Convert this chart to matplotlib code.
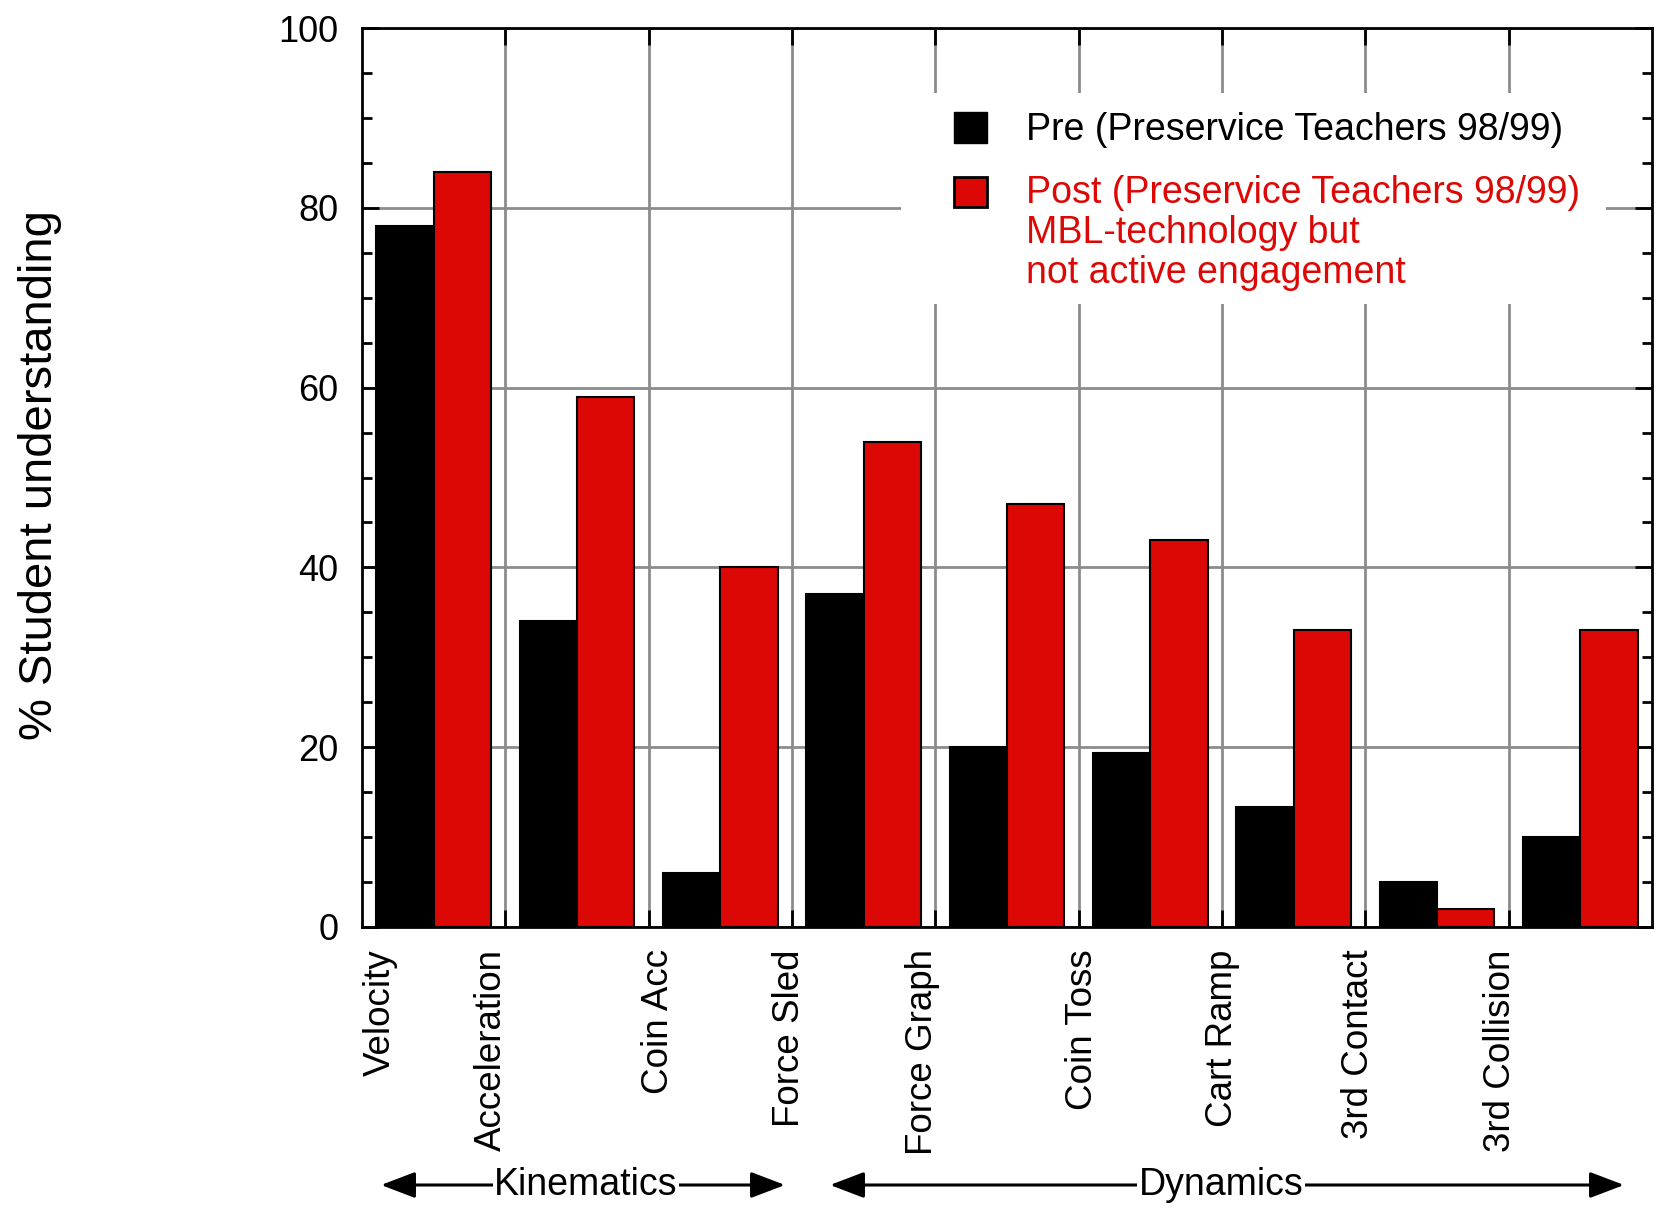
import numpy as np
import matplotlib.pyplot as plt
from matplotlib.patches import Rectangle, FancyArrowPatch

plt.rcParams['font.family'] = ['Liberation Sans', 'DejaVu Sans']

categories = ['Velocity', 'Acceleration', 'Coin Acc', 'Force Sled', 'Force Graph',
              'Coin Toss', 'Cart Ramp', '3rd Contact', '3rd Collision']
pre = [78, 34, 6, 37, 20, 19.4, 13.3, 5, 10]
post = [84, 59, 40, 54, 47, 43, 33, 2, 33]
pre_label = 'Pre (Preservice Teachers 98/99)'
post_lines = ['Post (Preservice Teachers 98/99)', 'MBL-technology but', 'not active engagement']

# where the (misplaced) category labels sit in the original
label_pos = [0.13, 0.90, 2.07, 2.98, 3.91, 5.03, 6.0, 6.95, 7.94]

RED = '#dc0806'
GRID = '#8c8c8c'

fig = plt.figure(figsize=(16.62, 12.16), dpi=100)
ax = fig.add_axes([362 / 1662, 1 - 927 / 1216, 1290 / 1662, 899 / 1216])

x = np.arange(len(categories))
ax.bar(x + 0.3, pre, width=0.4, color='black', edgecolor='black', linewidth=1.5, zorder=2)
ax.bar(x + 0.7, post, width=0.4, color=RED, edgecolor='black', linewidth=1.5, zorder=2)

ax.set_xlim(0, len(categories))
ax.set_ylim(0, 100)

# group boundaries: gridlines + inward ticks
ax.xaxis.remove_overlapping_locs = False
ax.set_xticks(np.arange(1, len(categories)))
ax.set_xticklabels([])
ax.set_xticks(label_pos, minor=True)
ax.set_xticklabels(categories, minor=True, rotation=90, fontsize=26.5)
ax.tick_params(axis='x', which='major', direction='in', length=12, width=2, top=True, bottom=True)
ax.tick_params(axis='x', which='minor', length=0, pad=16)

ax.set_yticks(np.arange(0, 101, 20))
ax.set_yticks(np.arange(0, 101, 5), minor=True)
ax.tick_params(axis='y', which='major', direction='in', length=12, width=2, left=True, right=True,
               labelsize=26, pad=17)
ax.tick_params(axis='y', which='minor', direction='in', length=7, width=2, left=True, right=True)

ax.grid(True, which='major', color=GRID, linewidth=2)
ax.set_axisbelow(True)
for s in ax.spines.values():
    s.set_linewidth(2)

# legend drawn by hand so the red square lines up with the first line
ax.add_patch(Rectangle((0.4178, 0.693), 0.5465, 0.2347, transform=ax.transAxes,
                       facecolor='white', edgecolor='none', zorder=1.5))
ax.add_patch(Rectangle((0.4589, 0.8721), 0.0256, 0.0345, transform=ax.transAxes,
                       facecolor='black', edgecolor='black', zorder=3))
ax.add_patch(Rectangle((0.4589, 0.8009), 0.0256, 0.0334, transform=ax.transAxes,
                       facecolor=RED, edgecolor='black', linewidth=2, zorder=3))
ax.text(0.5147, 0.8754, pre_label, transform=ax.transAxes, fontsize=27, va='baseline', zorder=3)
for i, line in enumerate(post_lines):
    ax.text(0.5147, 0.8053 - i * 0.0443, line, transform=ax.transAxes, fontsize=27,
            color=RED, va='baseline', zorder=3)

fig.text(40 / 1662, 1 - 475 / 1216, '% Student understanding', rotation=90,
         ha='center', va='center', fontsize=34)

# Kinematics / Dynamics arrows
arrow_y = 1 - 1185 / 1216
for x0, x1, xt, name in [(381, 785, 586, 'Kinematics'), (830, 1624, 1221, 'Dynamics')]:
    arr = FancyArrowPatch((x0 / 1662, arrow_y), (x1 / 1662, arrow_y), transform=fig.transFigure,
                          arrowstyle='<|-|>,head_length=1.05,head_width=0.4', mutation_scale=20,
                          color='black', linewidth=2.2, shrinkA=0, shrinkB=0)
    fig.add_artist(arr)
    fig.text(xt / 1662, arrow_y, name, ha='center', va='center', fontsize=27, zorder=5,
             bbox=dict(facecolor='white', edgecolor='none', pad=1))

fig.savefig('out.png', dpi=100)
